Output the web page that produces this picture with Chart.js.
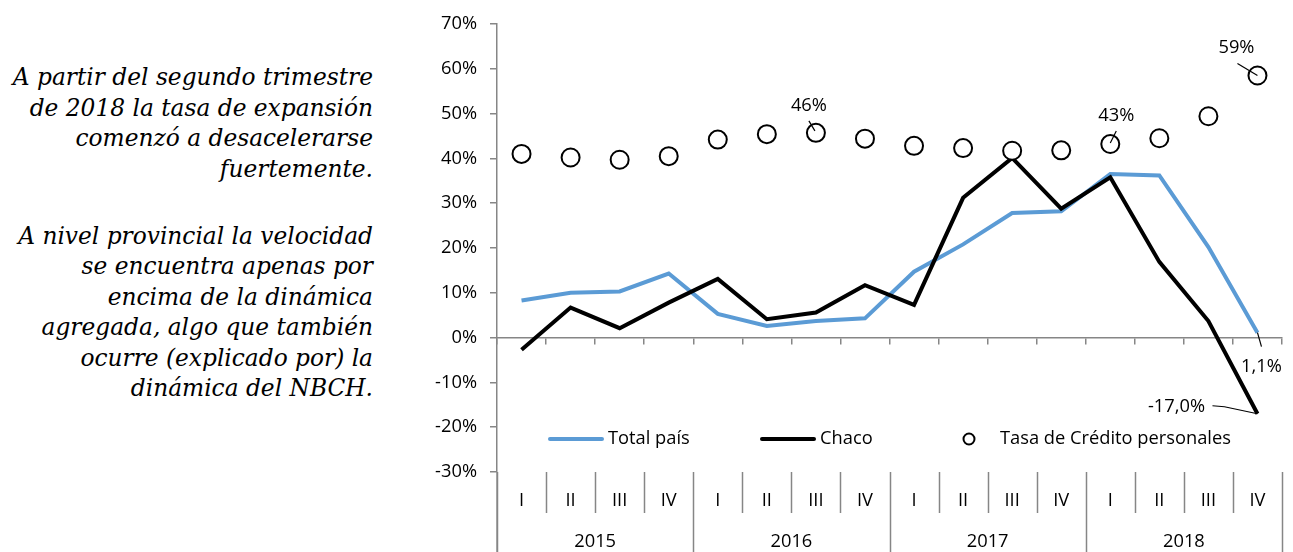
<!DOCTYPE html>
<html>
<head>
<meta charset="utf-8">
<script src="https://cdn.jsdelivr.net/npm/chart.js@4.4.0/dist/chart.umd.min.js"></script>
<style>
    body { margin: 0; background: #fff; width: 1293px; height: 552px; overflow: hidden; position: relative; }
    #note {
        position: absolute; left: 0; top: 62px; width: 373px;
        text-align: right; font-family: "DejaVu Serif", serif; font-style: italic;
        font-size: 23.3px; line-height: 30.5px; color: #000;
    }
    #note p { margin: 0; white-space: nowrap; }
    #note p + p { margin-top: 36.5px; }
    #wrap { position: absolute; left: 400px; top: 0; width: 893px; height: 552px; }
</style>
</head>
<body>
<div id="note">
    <p>A partir del segundo trimestre<br>de 2018 la tasa de expansión<br>comenzó a desacelerarse<br>fuertemente.</p>
    <p>A nivel provincial la velocidad<br>se encuentra apenas por<br>encima de la dinámica<br>agregada, algo que también<br>ocurre (explicado por) la<br>dinámica del NBCH.</p>
</div>
<div id="wrap"><canvas id="chart" width="893" height="552"></canvas></div>
<script>
// Chart data

const quarters = ['I', 'II', 'III', 'IV', 'I', 'II', 'III', 'IV', 'I', 'II', 'III', 'IV', 'I', 'II', 'III', 'IV'];
const years = ['2015', '2016', '2017', '2018'];

const totalPais = [8.3, 10.0, 10.3, 14.3, 5.3, 2.6, 3.7, 4.3, 14.7, 20.8, 27.8, 28.2, 36.5, 36.2, 20.2, 1.1];
const chaco = [-2.7, 6.7, 2.1, 7.8, 13.1, 4.1, 5.6, 11.7, 7.3, 31.2, 40.1, 28.8, 35.8, 16.9, 3.7, -17.0];
const tasaCredito = [41.0, 40.2, 39.7, 40.5, 44.2, 45.4, 45.7, 44.4, 42.8, 42.3, 41.7, 41.8, 43.2, 44.5, 49.4, 58.5];

const yTicks = { min: -30, max: 70, step: 10 };

// callouts: dataset index, point index, text, text offset and leader line (offsets from the point)
const callouts = [
    { ds: 2, i: 6, text: '46%', dx: -7, dy: -27, line: [[-7, -12], [-1, -2]] },
    { ds: 2, i: 12, text: '43%', dx: 6, dy: -28, line: [[0, -1], [6, -13]] },
    { ds: 2, i: 15, text: '59%', dx: -21, dy: -28, line: [[-20, -12], [0, 0]] },
    { ds: 0, i: 15, text: '1,1%', dx: 4, dy: 34, line: [[0, 0], [4, 14]] },
    { ds: 1, i: 15, text: '-17,0%', dx: -81, dy: -7, line: [[-45, -8], [-33, -7], [0, 0]] }
];

const FONT = '"Open Sans", sans-serif';
const FONT_SIZE = 18.3;
const AXIS_GRAY = '#868686';

const categoryAxis = {
    id: 'categoryAxis',
    afterDraw(chart) {
        const { ctx, chartArea, scales: { x } } = chart;
        const top = chartArea.bottom;
        const bottom = chart.height;
        ctx.save();
        ctx.strokeStyle = AXIS_GRAY;
        ctx.lineWidth = 1.5;
        ctx.beginPath();
        ctx.moveTo(chartArea.left, top);
        ctx.lineTo(chartArea.left, bottom);
        for (let i = 0; i <= quarters.length; i++) {
            const bx = Math.round(x.getPixelForValue(i - 0.5)) + 0.5;
            ctx.moveTo(bx, top);
            ctx.lineTo(bx, i % 4 === 0 ? bottom : top + 41);
        }
        ctx.stroke();

        ctx.fillStyle = '#000';
        ctx.font = FONT_SIZE + 'px ' + FONT;
        ctx.textAlign = 'center';
        ctx.textBaseline = 'middle';
        quarters.forEach((q, i) => {
            ctx.fillText(q, x.getPixelForValue(i), top + 29);
        });
        years.forEach((yr, k) => {
            ctx.fillText(yr, x.getPixelForValue(4 * k + 1.5), top + 70);
        });
        ctx.restore();
    }
};

const calloutLabels = {
    id: 'calloutLabels',
    afterDatasetsDraw(chart) {
        const { ctx } = chart;
        ctx.save();
        ctx.strokeStyle = '#000';
        ctx.lineWidth = 1.2;
        ctx.fillStyle = '#000';
        ctx.font = FONT_SIZE + 'px ' + FONT;
        ctx.textAlign = 'center';
        ctx.textBaseline = 'middle';
        callouts.forEach(c => {
            const pt = chart.getDatasetMeta(c.ds).data[c.i];
            ctx.beginPath();
            c.line.forEach(([lx, ly], k) => {
                if (k === 0) ctx.moveTo(pt.x + lx, pt.y + ly);
                else ctx.lineTo(pt.x + lx, pt.y + ly);
            });
            ctx.stroke();
            ctx.fillText(c.text, pt.x + c.dx, pt.y + c.dy);
        });
        ctx.restore();
    }
};

// legend sits inside the plot, near the bottom
const innerLegend = {
    id: 'innerLegend',
    afterDraw(chart) {
        const { ctx } = chart;
        const ly = 439;
        const starts = [150, 362, 569];
        ctx.save();
        ctx.font = FONT_SIZE + 'px ' + FONT;
        ctx.textBaseline = 'middle';
        ctx.textAlign = 'left';
        chart.data.datasets.forEach((ds, k) => {
            const sx = starts[k];
            if (ds.showLine === false) {
                ctx.beginPath();
                ctx.arc(sx, ly, 5.5, 0, Math.PI * 2);
                ctx.fillStyle = '#fff';
                ctx.fill();
                ctx.lineWidth = 2;
                ctx.strokeStyle = ds.pointBorderColor;
                ctx.stroke();
                ctx.fillStyle = '#000';
                ctx.fillText(ds.label, sx + 31, ly);
            } else {
                ctx.beginPath();
                ctx.moveTo(sx, ly);
                ctx.lineTo(sx + 52, ly);
                ctx.lineWidth = ds.borderWidth;
                ctx.lineCap = 'round';
                ctx.strokeStyle = ds.borderColor;
                ctx.stroke();
                ctx.fillStyle = '#000';
                ctx.fillText(ds.label, sx + 58, ly);
            }
        });
        ctx.restore();
    }
};

const ctx = document.getElementById('chart').getContext('2d');
new Chart(ctx, {
    type: 'line',
    data: {
        labels: quarters,
        datasets: [{
            label: 'Total país',
            data: totalPais,
            borderColor: '#5B9BD5',
            backgroundColor: '#5B9BD5',
            borderWidth: 4,
            pointRadius: 0,
            tension: 0,
            order: 2
        }, {
            label: 'Chaco',
            data: chaco,
            borderColor: '#000000',
            backgroundColor: '#000000',
            borderWidth: 4,
            pointRadius: 0,
            tension: 0,
            order: 1
        }, {
            label: 'Tasa de Crédito personales',
            data: tasaCredito,
            showLine: false,
            pointRadius: 9,
            pointBorderWidth: 2,
            pointBorderColor: '#000000',
            pointBackgroundColor: '#ffffff',
            order: 0
        }]
    },
    options: {
        responsive: false,
        animation: false,
        layout: {
            padding: { top: 22, right: 6, bottom: 80, left: 0 }
        },
        plugins: {
            legend: { display: false },
            tooltip: { enabled: false }
        },
        scales: {
            x: {
                type: 'category',
                position: { y: 0 },
                offset: true,
                grid: {
                    offset: true,
                    drawOnChartArea: false,
                    tickLength: 6,
                    color: AXIS_GRAY,
                    lineWidth: 1.5
                },
                border: { color: AXIS_GRAY, width: 1.5 },
                ticks: { display: false }
            },
            y: {
                min: yTicks.min,
                max: yTicks.max,
                afterFit(scale) { scale.width = 97; },
                ticks: {
                    stepSize: yTicks.step,
                    padding: 13,
                    color: '#000',
                    font: { family: FONT, size: FONT_SIZE },
                    callback: v => v + '%'
                },
                grid: {
                    drawOnChartArea: false,
                    tickLength: 7,
                    color: AXIS_GRAY,
                    lineWidth: 1.5
                },
                border: { color: AXIS_GRAY, width: 1.5 }
            }
        }
    },
    plugins: [categoryAxis, calloutLabels, innerLegend]
});
</script>
</body>
</html>
